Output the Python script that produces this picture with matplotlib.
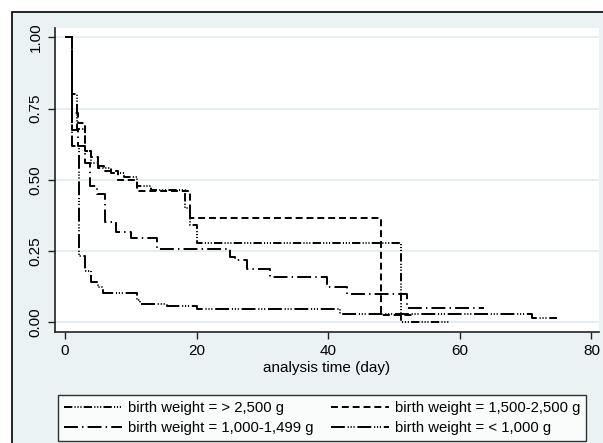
import matplotlib
matplotlib.use("Agg")
import matplotlib.pyplot as plt
from matplotlib.patches import Rectangle

plt.rcParams['font.family'] = ['Liberation Sans', 'DejaVu Sans']
plt.rcParams['lines.scale_dashes'] = False

# ---- data (Kaplan-Meier step curves) ----
labels = ["birth weight = > 2,500 g", "birth weight = 1,500-2,500 g",
          "birth weight = 1,000-1,499 g", "birth weight = < 1,000 g"]

t_gt2500 = [0, 1, 1.8, 3, 4, 5, 7, 9, 11, 13, 18.3, 19, 20, 51, 58.5]
s_gt2500 = [1.0, 0.80, 0.68, 0.60, 0.56, 0.54, 0.525, 0.51, 0.48, 0.465, 0.40, 0.34, 0.278, 0.0, 0.0]

t_1500 = [0, 1, 2, 3, 4, 5, 6, 8, 11, 19, 48, 53.2]
s_1500 = [1.0, 0.735, 0.70, 0.60, 0.58, 0.55, 0.53, 0.50, 0.46, 0.367, 0.026, 0.026]

t_1000 = [0, 1, 2, 3, 3.8, 4.8, 6.1, 7.8, 10.1, 14, 25, 25.8, 27.6, 31.2, 39.8, 42.8, 51.9, 63.6]
s_1000 = [1.0, 0.675, 0.62, 0.56, 0.478, 0.452, 0.353, 0.318, 0.295, 0.257, 0.23, 0.219, 0.186, 0.16, 0.125, 0.098, 0.051, 0.051]

t_lt1000 = [0, 1, 2.1, 3, 4, 5, 5.8, 10.9, 11.4, 15.5, 20, 41.8, 70.9, 74.7]
s_lt1000 = [1.0, 0.62, 0.233, 0.18, 0.14, 0.125, 0.104, 0.078, 0.064, 0.058, 0.046, 0.028, 0.016, 0.016]

x_ticks = [0, 20, 40, 60, 80]
y_ticks = [0.0, 0.25, 0.50, 0.75, 1.00]
y_ticklabels = ["0.00", "0.25", "0.50", "0.75", "1.00"]

# ---- figure ----
W, H = 603, 443
fig = plt.figure(figsize=(W / 100, H / 100), dpi=100, facecolor='white')

# outer graph region (Stata style)
bg = Rectangle((12 / W, -0.01), 1.0, (H - 12) / H + 0.01, transform=fig.transFigure,
               facecolor='#eaf2f3', edgecolor='black', linewidth=1.2, zorder=-10)
fig.patches.append(bg)

ax = fig.add_axes([55 / W, (H - 331.7) / H, 544 / W, (331.7 - 28) / H])
ax.set_facecolor('white')

styles = [
    dict(dashes=(6, 1.6, 0.8, 1.3, 0.8, 1.3, 0.8, 1.6)),
    dict(dashes=(5, 2.8)),
    dict(dashes=(10, 3, 1, 3)),
    dict(dashes=(10, 2, 0.8, 1.3, 0.8, 1.3, 0.8, 2)),
]
series = [(t_gt2500, s_gt2500), (t_1500, s_1500), (t_1000, s_1000), (t_lt1000, s_lt1000)]
handles = []
for (t, s), st, lab in zip(series, styles, labels):
    ln, = ax.step(t, s, where='post', color='black', linewidth=1.4, label=lab, **st)
    handles.append(ln)

ax.set_xlim(-1.52, 81.15)
ax.set_ylim(-0.033, 1.033)
ax.set_xticks(x_ticks)
ax.set_yticks(y_ticks)
ax.set_yticklabels(y_ticklabels, rotation=90, va='center')
ax.tick_params(axis='both', direction='out', length=5, width=1, color='#222222',
               labelsize=11, pad=4)
for g in y_ticks:
    ax.axhline(g, color='#e2edf1', linewidth=1.3, zorder=0)
for side in ['top', 'right']:
    ax.spines[side].set_visible(False)
for side in ['left', 'bottom']:
    ax.spines[side].set_linewidth(1.2)
    ax.spines[side].set_color('#222222')
ax.set_xlabel("analysis time (day)", fontsize=11, labelpad=2)

order = [0, 2, 1, 3]
leg = fig.legend([handles[i] for i in order], [labels[i] for i in order], ncol=2,
                 loc='upper left', bbox_to_anchor=(58 / W, (H - 395) / H),
                 borderaxespad=0, frameon=True, fancybox=False, fontsize=10.7,
                 handlelength=3.9, handletextpad=0.4, columnspacing=1.2,
                 borderpad=0.4, labelspacing=0.4)
leg.get_frame().set_edgecolor('black')
leg.get_frame().set_linewidth(1.0)

fig.savefig('out.png', dpi=100, facecolor='white')
